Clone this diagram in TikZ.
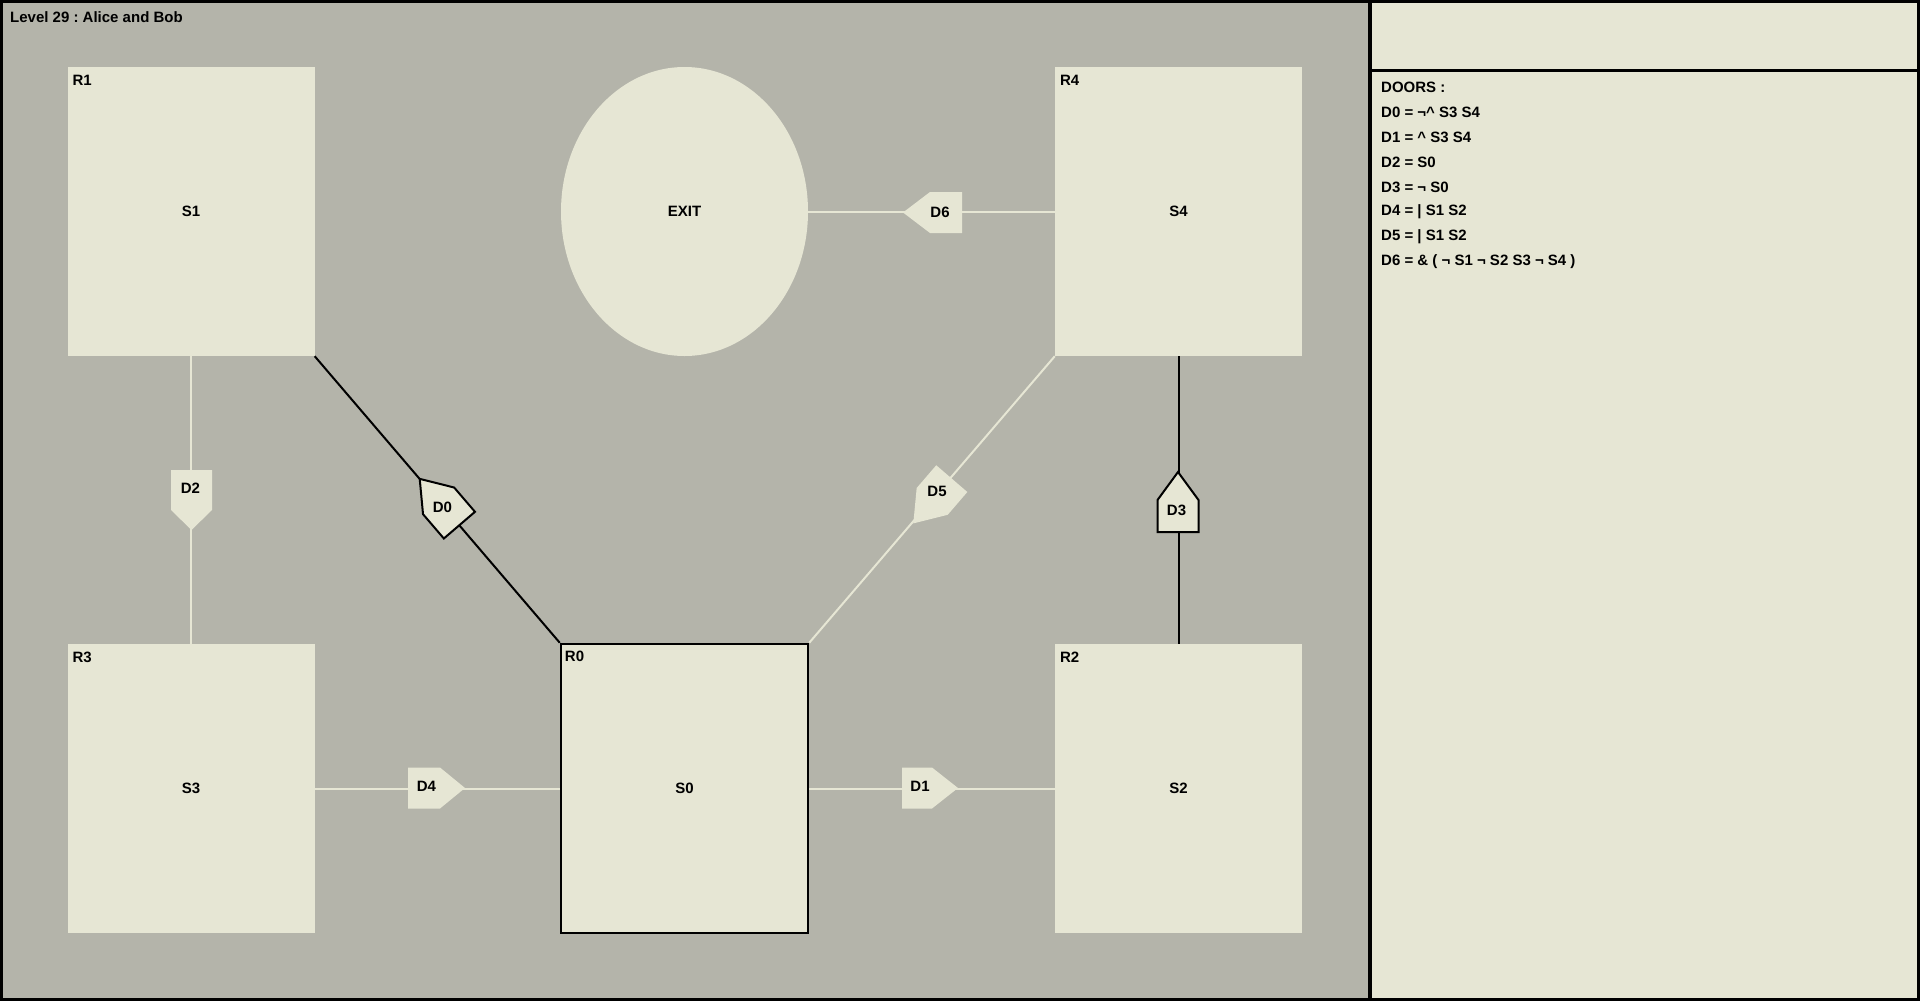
\documentclass[tikz,border=0pt]{standalone}
\usepackage{fontspec}
\setmainfont{Liberation Sans}
\usetikzlibrary{shapes.geometric}
\frenchspacing

\definecolor{wall}{RGB}{180,180,170}
\definecolor{floor}{RGB}{230,230,212}

% door: style, x, y, angle, body length, tip length
\newcommand{\doorshape}[6]{%
  \begin{scope}[shift={(#2,#3)},rotate=#4]
    \filldraw[#1] ({-#5/2},-20.5) -- ({#5/2},-20.5) -- ({#5/2+#6},0) -- ({#5/2},20.5) -- ({-#5/2},20.5) -- cycle;
  \end{scope}}

\begin{document}
\begin{tikzpicture}[x=1pt,y=-1pt,
  every node/.style={font=\fontsize{15}{18}\selectfont\bfseries},
  room/.style={fill=floor,inner sep=0pt,minimum width=247pt,minimum height=289pt},
  tag/.style={anchor=west,inner sep=0pt},
  openline/.style={line width=2pt,floor},
  shutline/.style={line width=2pt,black}]

\useasboundingbox (0,0) rectangle (1920,1001);
\fill[wall]  (0,0)    rectangle (1370,1001);
\fill[floor] (1370,0) rectangle (1920,1001);

% rooms
\node[room] (r1) at (191,211.5)    {S1};
\node[room] (r4) at (1178.5,211.5) {S4};
\node[room] (r3) at (191,788.5)    {S3};
\node[room,draw,line width=2.5pt] (r0) at (684.5,788.5) {S0};
\node[room] (r2) at (1178.5,788.5) {S2};
\node[room,ellipse] (exit) at (684.5,211.5) {EXIT};

\node[tag] (r1tag) at ([xshift=5pt,yshift=-13.5pt]r1.north west) {R1};
\node[tag] (r4tag) at ([xshift=5pt,yshift=-13.5pt]r4.north west) {R4};
\node[tag] (r3tag) at ([xshift=5pt,yshift=-13.5pt]r3.north west) {R3};
\node[tag] (r0tag) at ([xshift=5pt,yshift=-13.5pt]r0.north west) {R0};
\node[tag] (r2tag) at ([xshift=5pt,yshift=-13.5pt]r2.north west) {R2};

% passages
\draw[shutline] (r1.south east) -- (r0.north west);
\draw[openline] (r0.north east) -- (r4.south west);
\draw[openline] (r1.south) -- (r3.north);
\draw[shutline] (r4.south) -- (r2.north);
\draw[openline] (r3.east) -- (r0.west);
\draw[openline] (r0.east) -- (r2.west);
\draw[openline] (exit.east) -- (r4.west);

% doors
\doorshape{fill=floor,draw=black,line width=2pt}{449}{513}{130.6}{32}{29}
\doorshape{fill=floor,draw=none}{942}{490}{229.3}{30}{29}
\doorshape{fill=floor,draw=none}{191.5}{490}{270}{40}{20}
\doorshape{fill=floor,draw=black,line width=2pt}{1178}{516}{90}{32}{28}
\doorshape{fill=floor,draw=none}{424}{788}{0}{32}{25}
\doorshape{fill=floor,draw=none}{917}{788}{0}{30}{26}
\doorshape{fill=floor,draw=none}{946}{212.5}{180}{32}{27}

\node (d0) at (442.5,507)  {D0};
\node (d1) at (920,786.5)  {D1};
\node (d2) at (190.5,488.5) {D2};
\node (d3) at (1176.5,510) {D3};
\node (d4) at (426.5,786.5) {D4};
\node (d5) at (937,491.5)  {D5};
\node (d6) at (940,212)    {D6};

% captions
\node[tag] (title) at (10,17) {Level 29 : Alice and Bob};
\node[tag] (doors) at (1381,87)  {DOORS :};
\node[tag] (l0) at (1381,112) {D0 = ¬\textasciicircum{} S3 S4};
\node[tag] (l1) at (1381,137) {D1 = \textasciicircum{} S3 S4};
\node[tag] (l2) at (1381,162) {D2 = S0};
\node[tag] (l3) at (1381,187) {D3 = ¬ S0};
\node[tag] (l4) at (1381,212) {D4 = | S1 S2};
\node[tag] (l5) at (1381,237) {D5 = | S1 S2};
\node[tag] (l6) at (1381,262) {D6 = \& ( ¬ S1 ¬ S2 S3 ¬ S4 )};

% frame
\draw[line width=3.5pt] (1370,0) -- (1370,1001);
\draw[line width=3.5pt] (1370,70.5) -- (1920,70.5);
\draw[line width=3.3pt] (1.65,1.65) rectangle (1918.35,999.35);

\end{tikzpicture}
\end{document}
